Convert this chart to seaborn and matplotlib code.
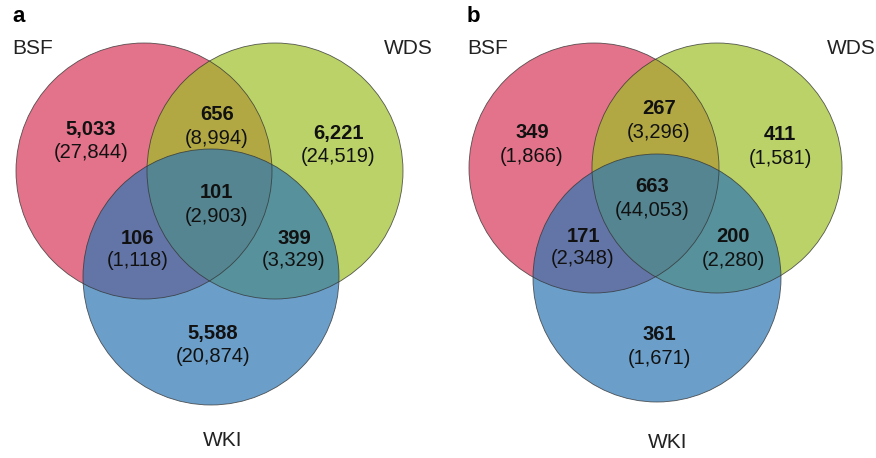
import matplotlib
matplotlib.use("Agg")
import matplotlib.pyplot as plt
from matplotlib.patches import Circle
import seaborn as sns

sns.set_theme(style="white")
plt.rcParams['font.family'] = ['Liberation Sans', 'DejaVu Sans']

# Data
panels = ["a", "b"]
sets = ["BSF", "WDS", "WKI"]
regions = ["BSF", "BSF&WDS", "WDS", "ALL", "BSF&WKI", "WDS&WKI", "WKI"]
bold_a = ["5,033", "656", "6,221", "101", "106", "399", "5,588"]
paren_a = ["27,844", "8,994", "24,519", "2,903", "1,118", "3,329", "20,874"]
bold_b = ["349", "267", "411", "663", "171", "200", "361"]
paren_b = ["1,866", "3,296", "1,581", "44,053", "2,348", "2,280", "1,671"]

colors = ["#D83859", "#9DBF27", "#2D77B3"]

# layout (pixel coords)
circles = {
    "a": [(144, 171, 128), (275, 171, 128), (211, 277, 128)],
    "b": [(594, 168, 125), (717, 168, 125), (657, 278, 124)],
}
label_pos = {
    "a": [(91, 130), (217, 115), (338, 133), (216, 193), (138, 238), (294, 238), (213, 334)],
    "b": [(532, 133), (659, 109), (780, 135), (652, 187), (583, 236), (733, 237), (659, 335)],
}
set_label_pos = {
    "a": [(12, 48, "left"), (433, 48, "right"), (223, 440, "center")],
    "b": [(467, 48, "left"), (876, 48, "right"), (668, 442, "center")],
}
panel_pos = {"a": (12, 16), "b": (467, 16)}

fig = plt.figure(figsize=(8.76, 4.58), dpi=100)
ax = fig.add_axes([0, 0, 1, 1])
ax.set_xlim(0, 876)
ax.set_ylim(458, 0)
ax.set_aspect("equal")
ax.axis("off")

data = {"a": (bold_a, paren_a), "b": (bold_b, paren_b)}
for p in panels:
    for (cx, cy, r), col in zip(circles[p], colors):
        ax.add_patch(Circle((cx, cy), r, facecolor=col, alpha=0.7,
                            edgecolor="none", zorder=1))
    for (cx, cy, r) in circles[p]:
        ax.add_patch(Circle((cx, cy), r, facecolor="none",
                            edgecolor="#333333", lw=0.6, alpha=0.8, zorder=2))
    bl, pl = data[p]
    for (x, y), b, pr in zip(label_pos[p], bl, pl):
        ax.text(x, y, b, ha="center", va="center", fontsize=14.5,
                fontweight="bold", color="#111111", zorder=3)
        ax.text(x, y + 23, f"({pr})", ha="center", va="center", fontsize=14.5,
                color="#111111", zorder=3)
    for (x, y, ha), s in zip(set_label_pos[p], sets):
        ax.text(x, y, s, ha=ha, va="center", fontsize=15, color="#222222")
    px, py = panel_pos[p]
    ax.text(px, py, p, ha="left", va="center", fontsize=16,
            fontweight="bold", color="black")

fig.savefig("out.png", dpi=100)
